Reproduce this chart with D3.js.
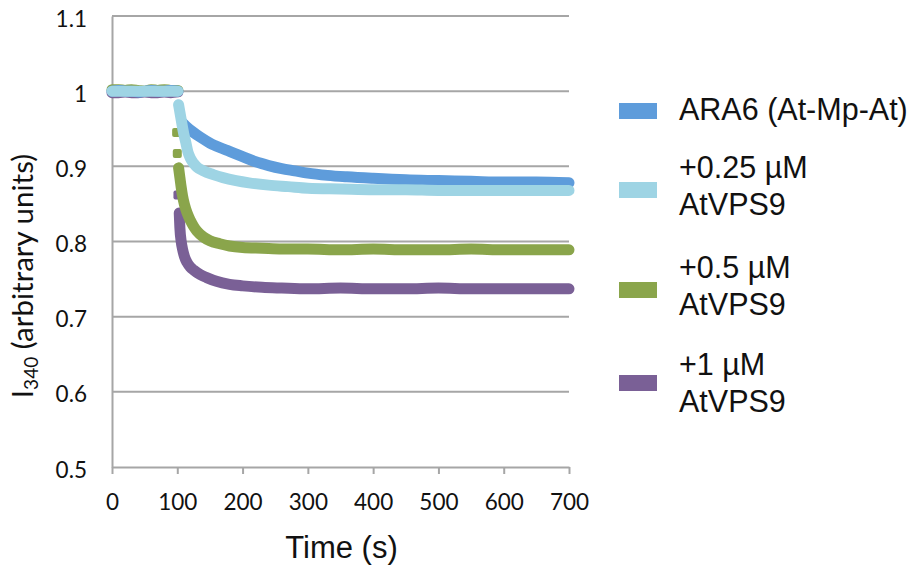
<!DOCTYPE html>
<html>
<head>
<meta charset="utf-8">
<script src="https://cdn.jsdelivr.net/npm/d3@7"></script>
<style>
  html, body { margin: 0; padding: 0; background: #fff; }
  svg { display: block; }
</style>
</head>
<body>
<svg id="chart" width="922" height="567"></svg>
<script>
// Fluorescence (I340) time courses for ARA6 with increasing AtVPS9.

const yTicks = [0.5, 0.6, 0.7, 0.8, 0.9, 1, 1.1];
const xTicks = [0, 100, 200, 300, 400, 500, 600, 700];

// Shared baseline before the addition at ~100 s
const plateauT = [0, 10, 20, 30, 40, 50, 60, 70, 80, 90, 101];

// ARA6 (At-Mp-At)
const ara6Plateau = [1.000, 1.001, 1.000, 1.000, 0.999, 1.000, 1.001, 1.000, 1.000, 1.001, 1.000];
const ara6T = [108, 115, 125, 135, 150, 165, 180, 200, 220, 240, 260, 280, 300, 330, 360, 400, 450, 500, 550, 600, 650, 700];
const ara6V = [0.958, 0.952, 0.945, 0.939, 0.931, 0.925, 0.920, 0.913, 0.906, 0.901, 0.897, 0.894, 0.891, 0.888, 0.886, 0.884, 0.882, 0.881, 0.880, 0.879, 0.879, 0.878];

// +0.25 µM AtVPS9
const vps025Plateau = [1.000, 1.000, 1.000, 1.000, 1.000, 1.000, 1.000, 1.000, 1.000, 1.000, 1.000];
const vps025T = [102, 104, 106, 108, 110, 113, 116, 120, 125, 130, 140, 155, 170, 190, 210, 240, 270, 300, 350, 400, 450, 500, 550, 600, 650, 700];
const vps025V = [0.982, 0.972, 0.962, 0.952, 0.943, 0.932, 0.920, 0.911, 0.904, 0.899, 0.894, 0.889, 0.885, 0.881, 0.878, 0.875, 0.873, 0.871, 0.870, 0.869, 0.869, 0.868, 0.868, 0.868, 0.868, 0.868];

// +0.5 µM AtVPS9
const vps05Plateau = [1.002, 1.002, 1.001, 1.002, 1.001, 1.000, 1.002, 1.001, 1.002, 1.001, 1.001];
const vps05SpotT = [99, 100];
const vps05SpotV = [0.945, 0.917];
const vps05T = [102, 104, 106, 108, 111, 115, 120, 125, 130, 140, 150, 165, 180, 200, 230, 260, 300, 350, 400, 450, 500, 550, 600, 650, 700];
const vps05V = [0.898, 0.885, 0.872, 0.861, 0.849, 0.838, 0.828, 0.820, 0.814, 0.806, 0.801, 0.797, 0.794, 0.792, 0.791, 0.790, 0.790, 0.789, 0.790, 0.789, 0.789, 0.790, 0.789, 0.789, 0.789];

// +1 µM AtVPS9
const vps1Plateau = [0.998, 0.998, 0.999, 0.998, 0.998, 0.999, 0.998, 0.998, 0.999, 0.998, 0.999];
const vps1SpotT = [101];
const vps1SpotV = [0.862];
const vps1T = [103, 104, 106, 108, 111, 115, 120, 125, 135, 145, 160, 180, 200, 230, 260, 300, 350, 400, 450, 500, 550, 600, 650, 700];
const vps1V = [0.838, 0.818, 0.800, 0.790, 0.780, 0.772, 0.766, 0.762, 0.756, 0.752, 0.747, 0.743, 0.741, 0.739, 0.738, 0.737, 0.738, 0.737, 0.737, 0.738, 0.737, 0.737, 0.737, 0.737];

const seriesNames = ["ARA6 (At-Mp-At)", "+0.25 µM AtVPS9", "+0.5 µM AtVPS9", "+1 µM AtVPS9"];
const legendLines = [["ARA6 (At-Mp-At)"], ["+0.25 µM", "AtVPS9"], ["+0.5 µM", "AtVPS9"], ["+1 µM", "AtVPS9"]];
const seriesColors = ["#5e9cdb", "#9ed4e4", "#8aa54b", "#7a6096"];

const zip = (ts, vs) => ts.map((t, i) => ({ t, v: vs[i] }));
const series = [
  { name: seriesNames[0], color: seriesColors[0], traces: [zip(plateauT, ara6Plateau), zip(ara6T, ara6V)], spots: [] },
  { name: seriesNames[1], color: seriesColors[1], traces: [zip(plateauT, vps025Plateau), zip(vps025T, vps025V)], spots: [] },
  { name: seriesNames[2], color: seriesColors[2], traces: [zip(plateauT, vps05Plateau), zip(vps05T, vps05V)], spots: zip(vps05SpotT, vps05SpotV) },
  { name: seriesNames[3], color: seriesColors[3], traces: [zip(plateauT, vps1Plateau), zip(vps1T, vps1V)], spots: zip(vps1SpotT, vps1SpotV) }
];

const svg = d3.select("#chart");
const plot = { left: 112, right: 569, top: 16, bottom: 467 };

const x = d3.scaleLinear().domain([0, 700]).range([plot.left, plot.right]);
const y = d3.scaleLinear().domain([0.5, 1.1]).range([plot.bottom, plot.top]);

const gridColor = "#a6a6a6";

// Horizontal gridlines
svg.append("g")
  .selectAll("line")
  .data(yTicks.filter(d => d > 0.5))
  .join("line")
  .attr("x1", plot.left).attr("x2", plot.right)
  .attr("y1", d => y(d)).attr("y2", d => y(d))
  .attr("stroke", gridColor).attr("stroke-width", 2);

// Y axis (line + labels)
const yAxis = svg.append("g")
  .attr("transform", `translate(${plot.left},0)`)
  .call(d3.axisLeft(y).tickValues(yTicks).tickSize(0).tickPadding(25)
    .tickFormat(d => d3.format("~g")(d)));
yAxis.select(".domain").attr("stroke", gridColor).attr("stroke-width", 2);
yAxis.selectAll("text")
  .attr("font-family", "Lato, 'Open Sans', sans-serif")
  .attr("font-size", 22.5)
  .attr("fill", "#111")
  .attr("dy", "0.45em");

// X axis (line, ticks, labels)
const xAxis = svg.append("g")
  .attr("transform", `translate(0,${plot.bottom})`)
  .call(d3.axisBottom(x).tickValues(xTicks).tickSize(7).tickPadding(20)
    .tickFormat(d3.format("d")).tickSizeOuter(0));
xAxis.select(".domain").attr("stroke", gridColor).attr("stroke-width", 2);
xAxis.selectAll(".tick line").attr("stroke", gridColor).attr("stroke-width", 2);
xAxis.selectAll("text")
  .attr("font-family", "Lato, 'Open Sans', sans-serif")
  .attr("font-size", 22.5)
  .attr("fill", "#111");

// Data traces: dense markers rendered as thick rounded strokes
const line = d3.line().x(d => x(d.t)).y(d => y(d.v)).curve(d3.curveMonotoneX);
const bandWidth = 11;
const drawOrder = [3, 2, 0, 1];
drawOrder.forEach(i => {
  const s = series[i];
  const g = svg.append("g");
  s.traces.forEach(tr => {
    g.append("path")
      .attr("d", line(tr))
      .attr("fill", "none")
      .attr("stroke", s.color)
      .attr("stroke-width", bandWidth)
      .attr("stroke-linecap", "round")
      .attr("stroke-linejoin", "round");
  });
  g.selectAll("rect.spot")
    .data(s.spots)
    .join("rect")
    .attr("class", "spot")
    .attr("x", d => x(d.t) - 4.5)
    .attr("y", d => y(d.v) - 4.5)
    .attr("width", 9).attr("height", 9)
    .attr("rx", 2)
    .attr("fill", s.color);
});

// Axis titles
svg.append("text")
  .attr("x", (plot.left + plot.right) / 2 + 1)
  .attr("y", 558)
  .attr("text-anchor", "middle")
  .attr("font-family", "'Liberation Sans', Arial, sans-serif")
  .attr("font-size", 31)
  .attr("fill", "#111")
  .text("Time (s)");

const yTitle = svg.append("text")
  .attr("transform", "translate(33,276) rotate(-90)")
  .attr("text-anchor", "middle")
  .attr("font-family", "Lato, 'Open Sans', sans-serif")
  .attr("font-size", 29.5)
  .attr("fill", "#111");
yTitle.append("tspan").text("I");
yTitle.append("tspan").attr("font-size", 19).attr("dy", 5).text("340");
yTitle.append("tspan").attr("dy", -5).text(" (arbitrary units)");

// Legend
const legendRows = [
  { swatchY: 103, baselines: [120] },
  { swatchY: 182, baselines: [178, 215] },
  { swatchY: 282, baselines: [278, 315] },
  { swatchY: 375, baselines: [375, 412] }
];
const legend = svg.append("g");
legendRows.forEach((row, i) => {
  legend.append("rect")
    .attr("x", 619).attr("y", row.swatchY)
    .attr("width", 38).attr("height", 16)
    .attr("fill", seriesColors[i]);
  legendLines[i].forEach((txt, j) => {
    legend.append("text")
      .attr("x", 679).attr("y", row.baselines[j])
      .attr("font-family", "'Liberation Sans', Arial, sans-serif")
      .attr("font-size", 30.5)
      .attr("fill", "#111")
      .text(txt);
  });
});
</script>
</body>
</html>
